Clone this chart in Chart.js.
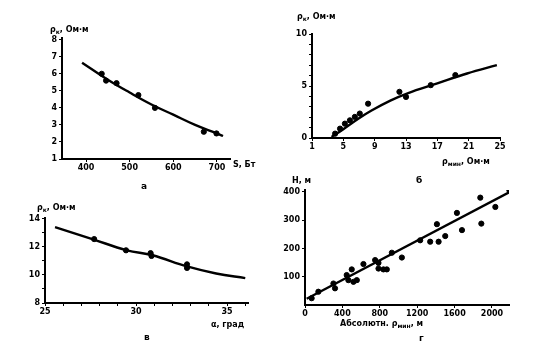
<!DOCTYPE html>
<html>
<head>
<meta charset="utf-8">
<script src="https://cdn.jsdelivr.net/npm/chart.js@4.4.1/dist/chart.umd.min.js"></script>
<style>
  body { margin: 0; background: #fff; width: 544px; height: 359px; overflow: hidden; position: relative; }
  canvas { position: absolute; }
  .t { position: absolute; font: bold 8px "DejaVu Sans", sans-serif; color: #000; white-space: nowrap; line-height: 9px; }
  .cap { position: absolute; font: bold 9px "DejaVu Sans", sans-serif; color: #000; }
  sub { font-size: 6px; vertical-align: -2px; }
</style>
</head>
<body>
<canvas id="chA"></canvas>
<canvas id="chB"></canvas>
<canvas id="chV"></canvas>
<canvas id="chG"></canvas>

<div class="t" style="left:50px;top:25px">ρ<sub>к</sub>, Ом·м</div>
<div class="t" style="left:233px;top:160px">S, Бт</div>
<div class="cap" style="left:141px;top:181px">а</div>

<div class="t" style="left:297px;top:12px">ρ<sub>к</sub>, Ом·м</div>
<div class="t" style="left:442px;top:157px">ρ<sub>мин</sub>, Ом·м</div>
<div class="cap" style="left:416px;top:175px">б</div>

<div class="t" style="left:37px;top:203px">ρ<sub>к</sub>, Ом·м</div>
<div class="t" style="left:211px;top:320px">α, град</div>
<div class="cap" style="left:144px;top:332px">в</div>

<div class="t" style="left:292px;top:176px">H, м</div>
<div class="t" style="left:340px;top:319px">Абсолютн. ρ<sub>мин</sub>, м</div>
<div class="cap" style="left:419px;top:333px">г</div>

<script>
// а: rho_k vs S
const ptsA = [{x:436,y:6.0},{x:446,y:5.6},{x:470,y:5.45},{x:520,y:4.75},{x:558,y:4.0},{x:670,y:2.6},{x:699,y:2.5}];
const curveA = [{x:391,y:6.65},{x:450,y:5.65},{x:500,y:4.9},{x:550,y:4.2},{x:600,y:3.6},{x:650,y:3.0},{x:700,y:2.5},{x:714,y:2.35}];
const ticksAx = [400, 500, 600, 700];
const ticksAy = [1, 2, 3, 4, 5, 6, 7, 8];

// б: rho_k vs rho_min
const ptsB = [{x:3.95,y:0.42},{x:4.58,y:0.9},{x:5.2,y:1.38},{x:5.84,y:1.7},{x:6.47,y:2.03},{x:7.1,y:2.35},
  {x:8.16,y:3.3},{x:12.16,y:4.44},{x:13.0,y:3.95},{x:16.16,y:5.08},{x:19.3,y:6.05}];
const curveB = [{x:3.5,y:0.1},{x:5,y:0.85},{x:7,y:1.9},{x:8.6,y:2.65},{x:11,y:3.6},{x:13.2,y:4.3},{x:17,y:5.25},{x:20.8,y:6.2},{x:24.6,y:7.0}];
const ticksBx = [1, 5, 9, 13, 17, 21, 25];
const ticksBy = [0, 1, 2, 3, 4, 5, 6, 7, 8, 9, 10];

// в: rho_k vs alpha
const ptsV = [{x:27.7,y:12.55},{x:29.45,y:11.75},{x:30.8,y:11.55},{x:30.85,y:11.35},{x:32.8,y:10.75},{x:32.8,y:10.5}];
const curveV = [{x:25.55,y:13.4},{x:27.6,y:12.55},{x:29.5,y:11.75},{x:30.9,y:11.4},{x:32.8,y:10.6},{x:34.4,y:10.1},{x:36.0,y:9.77}];
const ticksVx = [25, 26, 27, 28, 29, 30, 31, 32, 33, 34, 35, 36];
const ticksVy = [8, 9, 10, 11, 12, 13, 14];

// г: H vs absolute elevation
const ptsG = [{x:71,y:24},{x:143,y:47},{x:304,y:76},{x:321,y:59},{x:446,y:106},{x:464,y:88},{x:500,y:126},
  {x:518,y:82},{x:554,y:88},{x:625,y:145},{x:750,y:159},{x:786,y:149},{x:786,y:129},{x:839,y:126},{x:875,y:126},
  {x:929,y:185},{x:1036,y:168},{x:1232,y:229},{x:1339,y:224},{x:1411,y:286},{x:1429,y:224},{x:1500,y:244},
  {x:1625,y:326},{x:1679,y:265},{x:1875,y:380},{x:1886,y:288},{x:2036,y:347},{x:2186,y:406}];
const lineG = [{x:18,y:22},{x:2190,y:400}];
const ticksGx = [0, 400, 800, 1200, 1600, 2000];
const ticksGy = [100, 200, 300, 400];

const L = 30, T = 8, R = 14, B = 18;
const tickFont = {family: 'DejaVu Sans', size: 8, weight: 'bold'};

// eixo com ticks fixos; show() decide quais valores recebem texto
function axis(min, max, list, show, pad) {
  return {
    type: 'linear', min: min, max: max,
    afterBuildTicks: s => { s.ticks = list.map(v => ({value: v})); },
    grid: {display: true, drawOnChartArea: false, color: '#000', tickLength: 3, lineWidth: 1},
    border: {display: true, color: '#000', width: 2},
    ticks: {color: '#000', font: tickFont, padding: pad, autoSkip: false, maxRotation: 0,
      callback: v => (show(v) ? String(v) : '')}
  };
}

const all = v => true;

function criarPainel(id, area, xAxis, yAxis, pontos, curva, tension) {
  const cv = document.getElementById(id);
  const w = area[2] - area[0] + L + R, h = area[3] - area[1] + T + B;
  cv.width = w; cv.height = h;
  cv.style.left = (area[0] - L) + 'px';
  cv.style.top = (area[1] - T) + 'px';
  cv.style.width = w + 'px'; cv.style.height = h + 'px';
  xAxis.afterFit = s => { s.height = B; };
  yAxis.afterFit = s => { s.width = L; };
  return new Chart(cv, {
    type: 'scatter',
    data: {
      datasets: [
        {type: 'line', data: curva, borderColor: '#000', borderWidth: 2.4, pointRadius: 0, tension: tension, fill: false},
        {data: pontos, backgroundColor: '#000', borderColor: '#000', pointRadius: 2.6}
      ]
    },
    options: {
      responsive: false,
      animation: {duration: 0},
      layout: {padding: {left: 0, top: T, right: R, bottom: 0}},
      plugins: {legend: {display: false}, tooltip: {enabled: false}},
      scales: {x: xAxis, y: yAxis}
    }
  });
}

criarPainel('chA', [62, 38, 230, 159],
  axis(345, 730, ticksAx, all, 1),
  axis(1, 8.1, ticksAy, all, 2),
  ptsA, curveA, 0.4);

criarPainel('chB', [312, 34, 500, 138],
  axis(1, 25, ticksBx, all, 1),
  axis(0, 10, ticksBy, v => v % 5 === 0, 2),
  ptsB, curveB, 0.4);

criarPainel('chV', [45, 218, 248, 303],
  axis(25, 36.15, ticksVx, v => v % 5 === 0, 1),
  axis(8, 14.05, ticksVy, v => v % 2 === 0, 2),
  ptsV, curveV, 0.4);

criarPainel('chG', [305, 190, 509, 305],
  axis(0, 2182, ticksGx, all, 1),
  axis(0, 407, ticksGy, all, 2),
  ptsG, lineG, 0);
</script>
</body>
</html>
